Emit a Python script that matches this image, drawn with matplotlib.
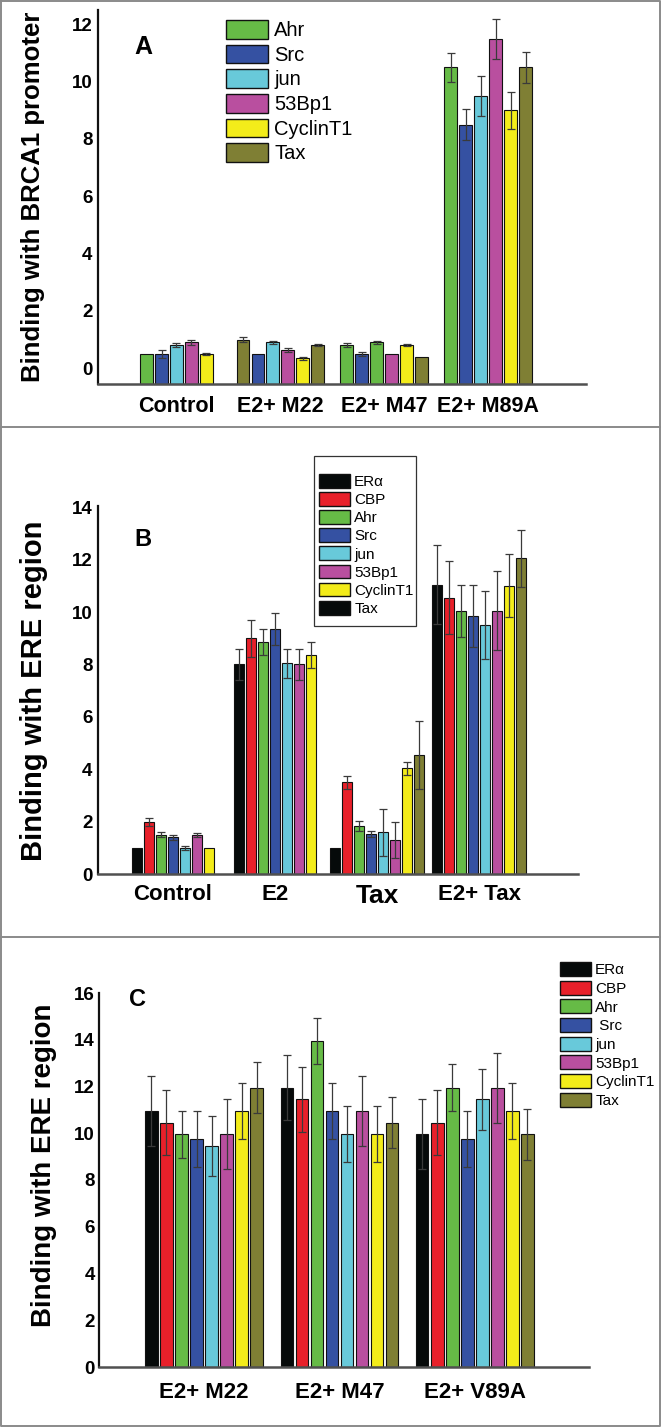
import numpy as np
import matplotlib
matplotlib.use("Agg")
import matplotlib.pyplot as plt
from matplotlib.patches import Patch, Rectangle
from matplotlib.lines import Line2D

plt.rcParams['font.family'] = ['Liberation Sans', 'DejaVu Sans']

# ---- data ----
colors = {
    "ERα": "#060a0a", "CBP": "#e8202a", "Ahr": "#66bb46", "Src": "#3551a2",
    "jun": "#68c9da", "53Bp1": "#b94f9f", "CyclinT1": "#f3ec1a", "Tax": "#7f7f34",
}

A_groups = ["Control", "E2+ M22", "E2+ M47", "E2+ M89A"]
A_legend = ["Ahr", "Src", "jun", "53Bp1", "CyclinT1", "Tax"]
A_bar_series = [
    ["Ahr", "Src", "jun", "53Bp1", "CyclinT1"],
    ["Tax", "Src", "jun", "53Bp1", "CyclinT1", "Tax"],
    ["Ahr", "Src", "Ahr", "53Bp1", "CyclinT1", "Tax"],
    ["Ahr", "Src", "jun", "53Bp1", "CyclinT1", "Tax"],
]
A_values = [
    [0.5, 0.5, 0.8, 0.9, 0.5],
    [1.0, 0.5, 0.9, 0.65, 0.35, 0.8],
    [0.8, 0.5, 0.9, 0.5, 0.8, 0.4],
    [10.5, 8.5, 9.5, 11.5, 9.0, 10.5],
]
A_errors = [
    [0, 0.15, 0.07, 0.08, 0.03],
    [0.08, 0, 0.05, 0.07, 0.05, 0.04],
    [0.07, 0.07, 0.05, 0, 0.04, 0],
    [0.5, 0.55, 0.7, 0.7, 0.65, 0.55],
]

B_groups = ["Control", "E2", "Tax", "E2+ Tax"]
B_series = ["ERα", "CBP", "Ahr", "Src", "jun", "53Bp1", "CyclinT1", "Tax"]
B_values = [
    [1.0, 2.0, 1.5, 1.4, 1.0, 1.5, 1.0],
    [8.0, 9.0, 8.85, 9.35, 8.05, 8.0, 8.35],
    [1.0, 3.5, 1.83, 1.53, 1.6, 1.3, 4.03, 4.54],
    [11.05, 10.55, 10.05, 9.85, 9.5, 10.05, 11.0, 12.05],
]
B_errors = [
    [0, 0.15, 0.1, 0.1, 0.07, 0.07, 0],
    [0.6, 0.7, 0.5, 0.6, 0.55, 0.6, 0.5],
    [0, 0.25, 0.2, 0.1, 0.9, 0.7, 0.25, 1.3],
    [1.5, 1.4, 1.0, 1.2, 1.3, 1.5, 1.2, 1.1],
]

C_groups = ["E2+ M22", "E2+ M47", "E2+ V89A"]
C_series = ["ERα", "CBP", "Ahr", "Src", "jun", "53Bp1", "CyclinT1", "Tax"]
C_legend = ["ERα", "CBP", "Ahr", " Src", "jun", "53Bp1", "CyclinT1", "Tax"]
C_values = [
    [10.95, 10.45, 9.95, 9.75, 9.45, 9.95, 10.95, 11.95],
    [11.95, 11.45, 13.95, 10.95, 9.95, 10.95, 9.95, 10.45],
    [9.95, 10.45, 11.95, 9.75, 11.45, 11.95, 10.95, 9.95],
]
C_errors = [
    [1.5, 1.4, 1.0, 1.2, 1.3, 1.5, 1.2, 1.1],
    [1.4, 1.4, 1.0, 1.2, 1.2, 1.5, 1.2, 1.1],
    [1.5, 1.4, 1.0, 1.2, 1.3, 1.5, 1.2, 1.1],
]

W, H = 661, 1428
fig = plt.figure(figsize=(W / 100, H / 100), dpi=100)


def px_axes(x0, y0, x1, y1):
    return fig.add_axes([x0 / W, 1 - y1 / H, (x1 - x0) / W, (y1 - y0) / H])


def fx(x):
    return x / W


def fy(y):
    return 1 - y / H


def draw_groups(ax, series_per_group, values, errors, pitch, width, floor=0.0):
    for g, (names, vals, errs) in enumerate(zip(series_per_group, values, errors)):
        n = len(vals)
        xs = g + (np.arange(n) - (n - 1) / 2) * pitch
        vals = np.array(vals)
        ax.bar(xs, vals - floor, width=width, bottom=floor,
               color=[colors[s] for s in names], edgecolor="#111111", linewidth=0.8, zorder=2)
        errs = np.array(errs)
        m = errs > 0
        ax.errorbar(xs[m], vals[m], yerr=errs[m], fmt="none", ecolor="#3a3a3a",
                    elinewidth=0.9, capsize=2.6, capthick=0.9, zorder=3)


def style_axes(ax, yticks, xlabels, xpad, ypad):
    for s in ["top", "right"]:
        ax.spines[s].set_visible(False)
    ax.spines["left"].set_color("#111111")
    ax.spines["left"].set_linewidth(1.6)
    ax.spines["bottom"].set_color("#505050")
    ax.spines["bottom"].set_linewidth(1.8)
    ax.set_yticks(yticks)
    ax.set_yticklabels([str(t) for t in yticks], fontsize=13.5, fontweight="bold")
    ax.set_xticks(range(len(xlabels)))
    ax.set_xticklabels(xlabels, fontsize=16, fontweight="bold")
    ax.tick_params(axis="both", length=0)
    ax.tick_params(axis="x", pad=xpad)
    ax.tick_params(axis="y", pad=ypad)


def legend_at(ax, labels, series, x, y, fs, hl, hh, ls):
    handles = [Patch(facecolor=colors[s], edgecolor="#111111", linewidth=1.0) for s in series]
    leg = ax.legend(handles, labels, loc="upper left", bbox_to_anchor=(fx(x), fy(y)),
                    bbox_transform=fig.transFigure, frameon=False, fontsize=fs,
                    handlelength=hl, handleheight=hh, labelspacing=ls,
                    handletextpad=0.3, borderpad=0, borderaxespad=0)
    return leg


# ---- panel A ----
axA = px_axes(98, 10, 586, 384)
A_floor = -0.55
draw_groups(axA, A_bar_series, A_values, A_errors, 0.144, 0.124, floor=A_floor)
axA.set_xlim(-0.755, 3.94)
axA.set_ylim(A_floor, 12.5)
style_axes(axA, list(range(0, 13, 2)), A_groups, 9, 4)
for t in axA.get_xticklabels():
    t.set_fontsize(15.5)
legend_at(axA, A_legend, A_legend, 226, 20, 14.5, 2.1, 1.05, 0.22)
fig.text(fx(33), fy(197), "Binding with BRCA1 promoter", rotation=90, ha="center",
         va="center", fontsize=18.5, fontweight="bold")
fig.text(fx(143), fy(47), "A", ha="center", va="center", fontsize=18, fontweight="bold")

# ---- panel B ----
axB = px_axes(98, 506, 578, 874)
B_bar_series = [B_series[:len(v)] for v in B_values]
draw_groups(axB, B_bar_series, B_values, B_errors, 0.118, 0.095)
axB.set_xlim(-0.735, 3.97)
axB.set_ylim(0, 14.05)
style_axes(axB, list(range(0, 15, 2)), B_groups, 7, 4)
axB.get_xticklabels()[2].set_fontsize(19)
B_legend_series = B_series[:-1] + ["ERα"]
legend_at(axB, B_series, B_legend_series, 319, 474, 11, 2.0, 1.0, 0.2)
fig.add_artist(Rectangle((fx(314), fy(626)), fx(416) - fx(314), fy(456) - fy(626),
                         transform=fig.transFigure, fill=False, edgecolor="#333333", linewidth=0.9))
fig.text(fx(34), fy(691), "Binding with ERE region", rotation=90, ha="center",
         va="center", fontsize=21, fontweight="bold")
fig.text(fx(143), fy(540), "B", ha="center", va="center", fontsize=17, fontweight="bold")

# ---- panel C ----
axC = px_axes(99, 993, 589, 1367)
draw_groups(axC, [C_series] * len(C_values), C_values, C_errors, 0.111, 0.092)
axC.set_xlim(-0.776, 2.843)
axC.set_ylim(0, 16)
style_axes(axC, list(range(0, 17, 2)), C_groups, 11, 3)
legend_at(axC, C_legend, C_series, 560, 962, 11, 2.0, 1.05, 0.22)
fig.text(fx(44), fy(1165), "Binding with ERE region", rotation=90, ha="center",
         va="center", fontsize=20, fontweight="bold")
fig.text(fx(138), fy(1000), "C", ha="center", va="center", fontsize=17, fontweight="bold")

# ---- panel frames ----
frame_kw = dict(color="#8a8a8a", linewidth=1.4, transform=fig.transFigure)
for y in (427, 937):
    fig.add_artist(Line2D([0, fx(660)], [fy(y), fy(y)], **frame_kw))
fig.add_artist(Line2D([fx(0.7), fx(659.5), fx(659.5), fx(0.7), fx(0.7)],
                      [fy(0.7), fy(0.7), fy(1426), fy(1426), fy(0.7)], **frame_kw))

fig.savefig("out.png", dpi=100)
